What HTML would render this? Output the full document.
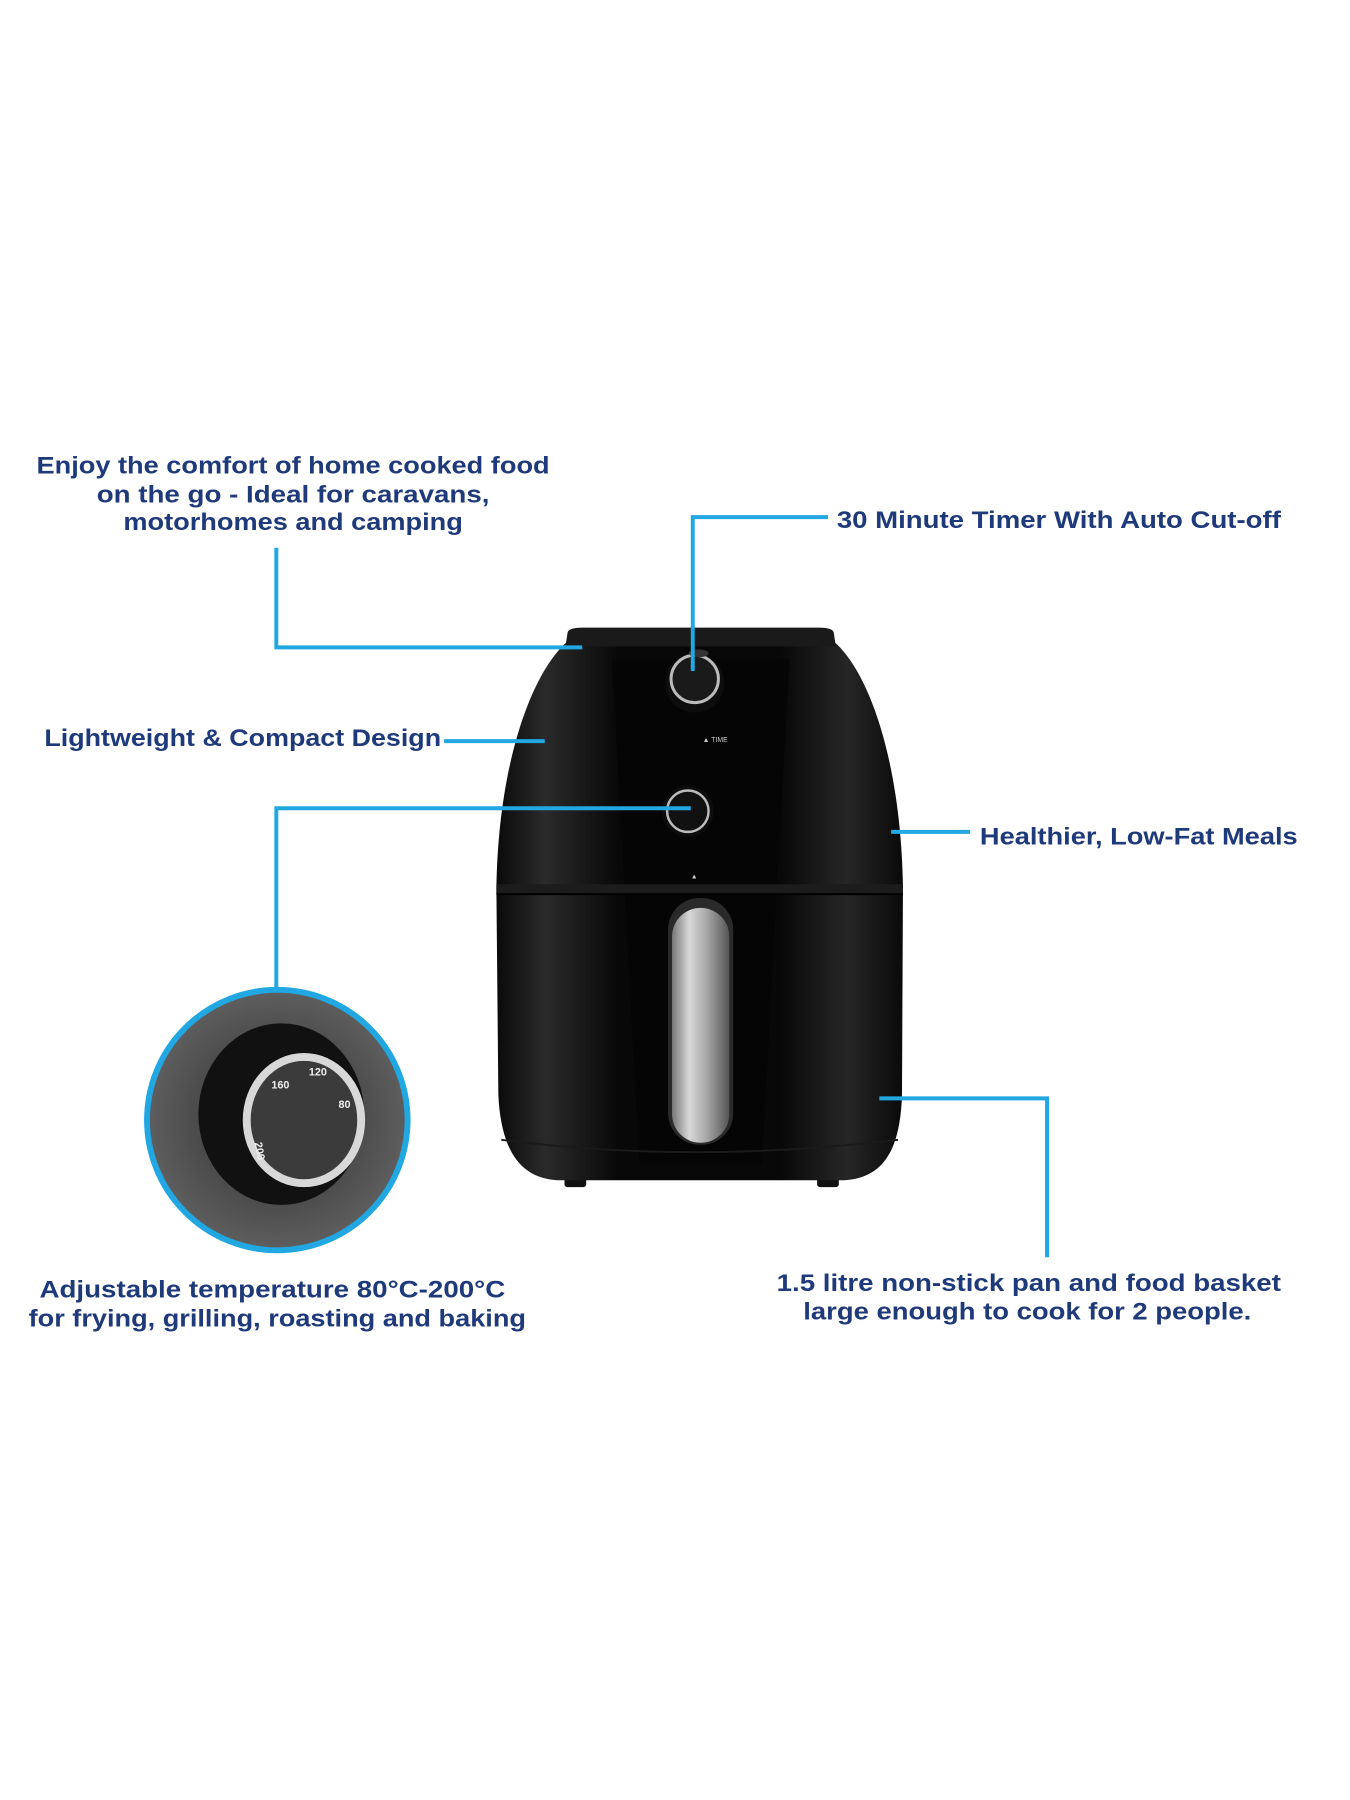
<!DOCTYPE html>
<html><head><meta charset="utf-8"><style>
html,body{margin:0;padding:0;background:#fff}
svg{display:block}
text{font-family:"Liberation Sans",Arial,sans-serif;font-weight:bold;fill:#1f3a7a;font-size:24px}
</style></head><body>
<svg width="1350" height="1800" viewBox="0 0 1368 1824" xmlns="http://www.w3.org/2000/svg">
<defs>
<linearGradient id="bodyG" x1="0" x2="1" y1="0" y2="0">
<stop offset="0" stop-color="#0a0a0a"/><stop offset="0.12" stop-color="#2a2a2a"/><stop offset="0.3" stop-color="#080808"/><stop offset="0.7" stop-color="#080808"/><stop offset="0.86" stop-color="#262626"/><stop offset="1" stop-color="#0a0a0a"/>
</linearGradient>
<linearGradient id="handleG" x1="0" x2="1" y1="0" y2="0">
<stop offset="0" stop-color="#777"/><stop offset="0.3" stop-color="#d8d8d8"/><stop offset="0.6" stop-color="#a8a8a8"/><stop offset="1" stop-color="#555"/>
</linearGradient>
<radialGradient id="padG" cx="0.5" cy="0.5" r="0.5">
<stop offset="0.6" stop-color="#4a4a4a"/><stop offset="1" stop-color="#5e5e5e"/>
</radialGradient>
</defs>

<!-- fryer -->
<rect x="572" y="1185" width="22" height="18" rx="3" fill="#111"/>
<rect x="828" y="1185" width="22" height="18" rx="3" fill="#111"/>
<path d="M575,650 C540,680 505,770 503,900 L505,1110 C508,1170 530,1194 565,1196 L855,1196 C892,1194 912,1170 914,1110 L915,900 C913,770 880,680 845,650 Z" fill="url(#bodyG)"/>
<path d="M575,642 Q575,636 590,636 L830,636 Q845,636 845,642 L847,655 L573,655 Z" fill="#1a1a1a"/>
<path d="M620,668 L800,668 L772,1180 L648,1180 Z" fill="#050505" opacity="0.8"/>
<path d="M503,896 L915,896 L915,906 L503,906 Z" fill="#1c1c1c"/>
<line x1="503" y1="906" x2="915" y2="906" stroke="#000" stroke-width="2"/>
<path d="M508,1155 Q700,1180 910,1155" stroke="#1a1a1a" stroke-width="2" fill="none"/>
<!-- timer knob -->
<circle cx="704" cy="692" r="30" fill="#0d0d0d"/>
<circle cx="704" cy="688" r="24" fill="#1a1a1a" stroke="#bbb" stroke-width="3"/>
<ellipse cx="708" cy="662" rx="10" ry="4" fill="#333"/>
<text x="712" y="752" style="font-size:7px;fill:#ccc;font-weight:normal">▲ TIME</text>
<!-- temp knob -->
<circle cx="697" cy="822" r="26" fill="#0d0d0d"/>
<circle cx="697" cy="822" r="21" fill="#111" stroke="#bbb" stroke-width="2.5"/>
<text x="700" y="890" style="font-size:7px;fill:#ccc;font-weight:normal">▲</text>
<!-- handle -->
<rect x="677" y="910" width="66" height="250" rx="32" fill="#2a2a2a"/>
<rect x="681" y="920" width="58" height="238" rx="29" fill="url(#handleG)"/>

<!-- connectors -->
<g stroke="#21a7e1" stroke-width="4" fill="none">
<polyline points="280,555 280,656 590,656"/>
<polyline points="839,524 702,524 702,680"/>
<line x1="450" y1="751" x2="552" y2="751"/>
<polyline points="700,819 280,819 280,1003"/>
<line x1="903" y1="843" x2="983" y2="843"/>
<polyline points="891,1113 1061,1113 1061,1274"/>
</g>

<!-- zoom circle -->
<g transform="translate(3,13)">
<circle cx="278" cy="1122" r="132" fill="url(#padG)" stroke="#21a7e1" stroke-width="6"/>
<ellipse cx="282" cy="1116" rx="84" ry="92" fill="#111"/>
<ellipse cx="305" cy="1122" rx="62" ry="68" fill="#d8d8d8"/>
<ellipse cx="305" cy="1122" rx="54" ry="60" fill="#3b3b3b"/>
<text x="255" y="1145" style="font-size:11px;fill:#eee" transform="rotate(80 255 1145)">200</text>
<text x="272" y="1090" style="font-size:11px;fill:#eee">160</text>
<text x="310" y="1077" style="font-size:11px;fill:#eee">120</text>
<text x="340" y="1110" style="font-size:11px;fill:#eee">80</text>
</g>

<!-- labels -->
<text x="297" y="480" text-anchor="middle" textLength="520" lengthAdjust="spacingAndGlyphs">Enjoy the comfort of home cooked food</text>
<text x="297" y="509" text-anchor="middle" textLength="398" lengthAdjust="spacingAndGlyphs">on the go - Ideal for caravans,</text>
<text x="297" y="537" text-anchor="middle" textLength="344" lengthAdjust="spacingAndGlyphs">motorhomes and camping</text>
<text x="848" y="535" textLength="450" lengthAdjust="spacingAndGlyphs">30 Minute Timer With Auto Cut-off</text>
<text x="45" y="756" textLength="402" lengthAdjust="spacingAndGlyphs">Lightweight &amp; Compact Design</text>
<text x="993" y="856" textLength="322" lengthAdjust="spacingAndGlyphs">Healthier, Low-Fat Meals</text>
<text x="40" y="1315" textLength="472" lengthAdjust="spacingAndGlyphs">Adjustable temperature 80°C-200°C</text>
<text x="29" y="1344" textLength="504" lengthAdjust="spacingAndGlyphs">for frying, grilling, roasting and baking</text>
<text x="787" y="1308" textLength="511" lengthAdjust="spacingAndGlyphs">1.5 litre non-stick pan and food basket</text>
<text x="814" y="1337" textLength="454" lengthAdjust="spacingAndGlyphs">large enough to cook for 2 people.</text>
</svg>
</body></html>
